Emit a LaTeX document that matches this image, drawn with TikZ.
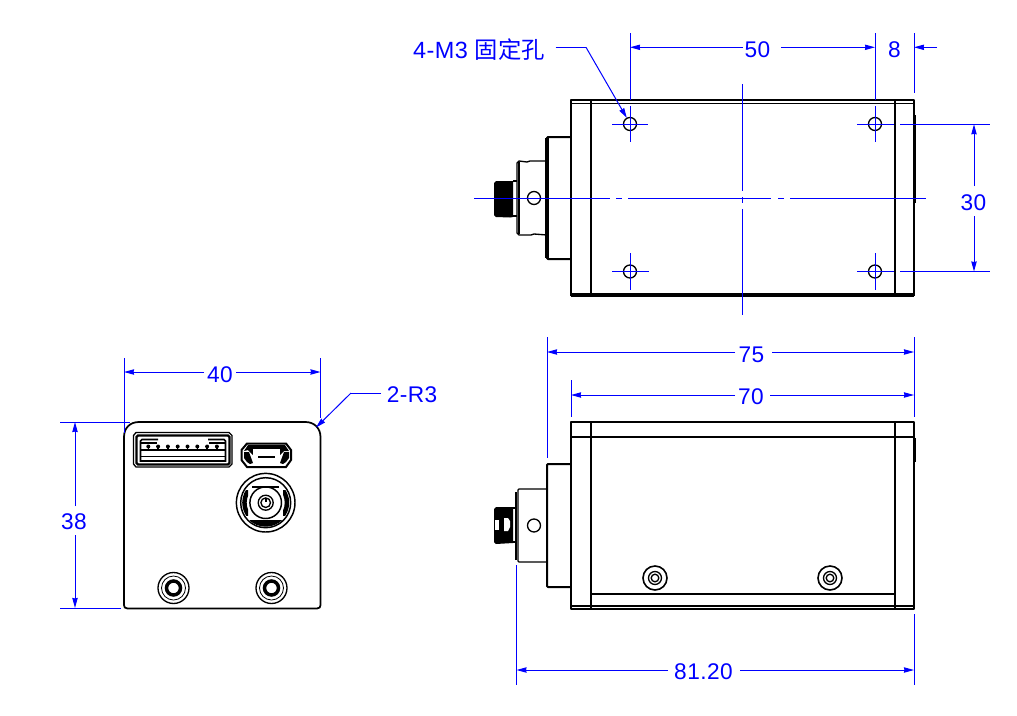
\documentclass[tikz,border=0pt]{standalone}
\usepackage{fontspec}
\setmainfont{Liberation Sans}
\newfontfamily\lblf[LetterSpace=2]{Liberation Sans}
\newfontfamily\cjkf{Noto Sans CJK SC}
\usetikzlibrary{arrows.meta}
\tikzset{
  x=0.75pt,y=-0.75pt,
  dimline/.style={draw={rgb,255:red,0;green,0;blue,255},line width=0.75pt},
  dimarrow/.style={dimline,-{Stealth[length=7.5pt,width=4pt,inset=0.3pt]}},
  center/.style={dimline},
  lbl/.style={text={rgb,255:red,0;green,0;blue,255},font=\lblf\fontsize{17}{19}\selectfont,inner sep=0pt},
  part/.style={draw=black,line width=1.5pt,line join=round},
  thin part/.style={draw=black,line width=1pt},
  heavy/.style={draw=black,line width=3pt},
  solid part/.style={fill=black,draw=black,line width=0.5pt}
}
\begin{document}
\begin{tikzpicture}
\useasboundingbox[fill=white] (0,0) rectangle (1017,715);

% ---------- top view ----------
\draw[part] (571,296) -- (571,100) -- (914,100) -- (914,296);
\draw[thin part] (571,103.5) -- (914,103.5);
\draw[heavy] (571,295) -- (914,295);
\draw[part] (591,100) -- (591,295);
\draw[part] (895,100) -- (895,295);
\draw[line width=2pt] (915,115) -- (915,203);
\draw[part] (571,137) -- (548,137) -- (547,138) -- (547,258) -- (548,259) -- (571,259);
\draw[line width=2.4pt] (547,138) -- (547,258);
\draw[thin part] (547,161) -- (530,161) -- (527,162) -- (519,161) -- (517,163) -- (517,233) -- (519,235) -- (531,235) -- (534,234) -- (547,235);
\draw[thin part] (519,162) -- (519,234);
\draw[thin part] (517,181) -- (513,181);
\draw[thin part] (517,216) -- (513,216);
\fill (496,181) -- (513,181) -- (513,217) -- (510,217.5) -- (496,217) -- (494,215) -- (494,183) -- cycle;
\draw[thin part] (534,198) circle (6.5);
\foreach \cx/\cy in {630/124,875/124,630/271.5,875/271.5} \draw[thin part] (\cx,\cy) circle (6.5);

\draw[center] (474,198.3) -- (610,198.3) (616,198.3) -- (622,198.3) (628,198.3) -- (771,198.3) (778,198.3) -- (784,198.3) (790,198.3) -- (926,198.3);
\draw[center] (742.5,84) -- (742.5,191) (742.5,197) -- (742.5,203) (742.5,209) -- (742.5,315);
\foreach \cx in {630,875} {
  \draw[center] (\cx,106) -- (\cx,142);
  \draw[center] (\cx,253) -- (\cx,290);
  \draw[center] (\cx,33) -- (\cx,100);
}
\draw[center] (612,124.3) -- (648,124.3);
\draw[center] (612,271.5) -- (649,271.5);
\draw[center] (857,124.3) -- (894,124.3) (900,124.3) -- (990,124.3);
\draw[center] (857,271.5) -- (894,271.5) (900,271.5) -- (990,271.5);
\draw[center] (914,33) -- (914,93);

% dim 50 / 8
\node[lbl] (d50) at (757.5,50) {50};
\coordinate (a50l) at (630,47.3); \coordinate (a50r) at (875,47.3);
\draw[dimarrow] (743,47.3) -- (a50l);
\draw[dimarrow] (781,47.3) -- (a50r);
\node[lbl] (d8) at (894.5,49.5) {8};
\coordinate (a8) at (914,47.3); \coordinate (a8e) at (937,47.3);
\draw[dimarrow] (a8e) -- (a8);

% dim 30
\node[lbl] (d30) at (973.5,202.5) {30};
\coordinate (a30t) at (974,124.3); \coordinate (a30b) at (974,271.5);
\draw[dimarrow] (974,186) -- (a30t);
\draw[dimarrow] (974,216) -- (a30b);

% leader 4-M3
\node[lbl] (m3) at (479,50) {\fontsize{17.6}{19}\selectfont 4-M3 {\cjkf\fontsize{17.5}{19}\selectfont 固定孔}};
\coordinate (m3k) at (586,47.3); \coordinate (m3s) at (555.5,47.3); \coordinate (m3t) at (626.8,118);
\draw[dimline] (m3s) -- (m3k);
\draw[dimarrow] (m3k) -- (m3t);

% ---------- side view ----------
\draw[part] (571,422) rectangle (914,608.5);
\draw[part] (571,436.7) -- (914,436.7);
\draw[part] (591,422) -- (591,608);
\draw[part] (895,422) -- (895,608);
\draw[part] (591,594) -- (895,594);
\draw[part] (571,605.7) -- (914,605.7);
\draw[line width=2pt] (915,438) -- (915,462);
\draw[part] (571,464) -- (548,464) -- (547,465) -- (547,586) -- (548,587) -- (571,587);
\draw[line width=2pt] (547,465) -- (547,586);
\draw[thin part] (547,489) -- (519,489) -- (518,490) -- (518,561) -- (519,562) -- (547,562);
\draw[thin part] (516,492) -- (516,560);
\draw[thin part] (516,508) -- (513,508);
\draw[thin part] (516,542) -- (513,542);
\fill (496,507) -- (513,507) -- (513,543) -- (496,544) -- (494,542) -- (494,509) -- cycle;
\fill[white] (495,520) rectangle (499,530);
\fill[white] (504,518) -- (508,518) -- (510,521) -- (510,527) -- (508,531) -- (504,531) -- cycle;
\draw[thin part] (534,525.5) circle (6.5);
\foreach \cx in {655,830} {
  \draw[line width=1.2pt] (\cx,578) circle (12);
  \draw[thin part] (\cx,578) circle (6.5);
  \draw[line width=1pt] (\cx,578) circle (3.8);
}

% dims 75 / 70 / 81.20
\draw[center] (547,337) -- (547,458);
\draw[center] (914,337) -- (914,417);
\draw[center] (571,380) -- (571,416.5);
\draw[center] (516.5,565) -- (516.5,685);
\draw[center] (914,614) -- (914,685);

\node[lbl] (d75) at (751.5,354.5) {75};
\coordinate (a75l) at (547,352); \coordinate (a75r) at (914,352);
\draw[dimarrow] (735,352) -- (a75l);
\draw[dimarrow] (772,352) -- (a75r);

\node[lbl] (d70) at (751,396.5) {70};
\coordinate (a70l) at (571,395); \coordinate (a70r) at (914,395);
\draw[dimarrow] (735,395) -- (a70l);
\draw[dimarrow] (770,395) -- (a70r);

\node[lbl] (d81) at (703.5,671.5) {81.20};
\coordinate (a81l) at (516.5,670); \coordinate (a81r) at (914,670);
\draw[dimarrow] (668,670) -- (a81l);
\draw[dimarrow] (740,670) -- (a81r);

% ---------- front view ----------
\draw[part,line width=1.3pt] (124,437) -- (124,605) .. controls (124,607) and (125,608.5) .. (127.5,608.5) -- (317,608.5) .. controls (319.5,608.5) and (320.5,607) .. (320.5,605) -- (320.5,437) .. controls (320.5,428) and (314,422) .. (305.5,422) -- (139,422) .. controls (130,422) and (124,428) .. (124,437) -- cycle;

% wide connector
\draw[line width=1pt] (136,432.5) -- (229,432.5) -- (232,435.5) -- (232,464) -- (229,467) -- (136,467) -- (133.5,464) -- (133.5,435.5) -- cycle;
\draw[line width=1.8pt] (138,435.5) -- (228,435.5) -- (229.5,437) -- (229.5,463) -- (228,464.5) -- (138,464.5) -- (136.5,463) -- (136.5,437) -- cycle;
\draw[line width=1.3pt] (158,439.5) -- (142,439.5) -- (140.5,441) -- (140.5,461) -- (225.5,461) -- (225.5,441) -- (224,439.5) -- (208,439.5);
\draw[line width=1.6pt] (141,450) -- (225,450);
\draw[line width=1pt] (141,456.5) -- (225,456.5);
\draw[line width=1pt] (141,443) -- (157,443) (209,443) -- (225,443);
\foreach \i in {0,...,7} {
  \fill (148.3+9.8*\i,446.5) circle (2);
  \draw[line width=1pt] (148.3+9.8*\i,446.5) -- (148.3+9.8*\i,450);
}

% micro connector
\draw[line width=1.5pt] (247,443.5) -- (286,443.5) -- (291,450) -- (291,460) -- (286,467) -- (247,467) -- (241.5,460) -- (241.5,450) -- cycle;
\fill (248,445) -- (285,445) -- (289,451) -- (284,451) -- (280,455) -- (253,455) -- (248,450) -- (244,451) -- cycle;
\fill (244,452) -- (249,452) -- (253,463) -- (250,464) -- (247,462) -- (244,458) -- cycle;
\fill (289,452) -- (284,452) -- (280,463) -- (283,464) -- (286,462) -- (289,458) -- cycle;
\fill (258,447) rectangle (275,449);
\fill[white] (253,449) rectangle (280,456);
\draw[line width=1pt] (258,457) -- (275,457);

% round connector
\coordinate (rc) at (265.7,502.7);
\draw[line width=1.1pt] (rc) circle (29.3);
\draw[line width=1.1pt] (rc) circle (25);
\begin{scope}
\clip (236,490) rectangle (248,515);
\fill[even odd rule] (rc) circle (23.5) (rc) circle (19);
\end{scope}
\begin{scope}
\clip (283,490) rectangle (296,515);
\fill[even odd rule] (rc) circle (23.5) (rc) circle (19);
\end{scope}
\begin{scope}
\clip (250,520) rectangle (282,530);
\fill[even odd rule] (rc) circle (24) (rc) circle (16.5);
\end{scope}
\draw[line width=1pt] (252,487) -- (279,487);
\draw[line width=1.1pt] (rc) circle (15.8);
\draw[line width=1pt] (rc) circle (7.5);
\draw[line width=1pt] (rc) circle (4.8);
\draw[line width=1.4pt] (265.7,497.5) -- (265.7,502);

% screws
\foreach \cx in {173.5,271.5} {
  \draw[line width=1pt] (\cx,588) circle (15.5);
  \draw[line width=2.6pt] (\cx,588) circle (7);
  \draw[line width=0.6pt] (\cx,588) circle (12);
}

% dims 40 / 38 / R3
\draw[center] (124,358) -- (124,433);
\draw[center] (320.5,358) -- (320.5,418);
\draw[center] (60,422) -- (130,422);
\draw[center] (60,608) -- (121,608);
\node[lbl] (d40) at (220,375) {40};
\coordinate (a40l) at (124,372); \coordinate (a40r) at (320.5,372);
\draw[dimarrow] (204,372) -- (a40l);
\draw[dimarrow] (236,372) -- (a40r);
\node[lbl] (d38) at (74,522) {38};
\coordinate (a38t) at (75,422); \coordinate (a38b) at (75,608);
\draw[dimarrow] (75,506) -- (a38t);
\draw[dimarrow] (75,535) -- (a38b);
\node[lbl] (r3) at (412,395) {2-R3};
\coordinate (r3s) at (381,393); \coordinate (r3k) at (351,393); \coordinate (r3t) at (316,427.5);
\draw[dimline] (r3s) -- (r3k);
\draw[dimarrow] (r3k) -- (r3t);
\end{tikzpicture}
\end{document}
